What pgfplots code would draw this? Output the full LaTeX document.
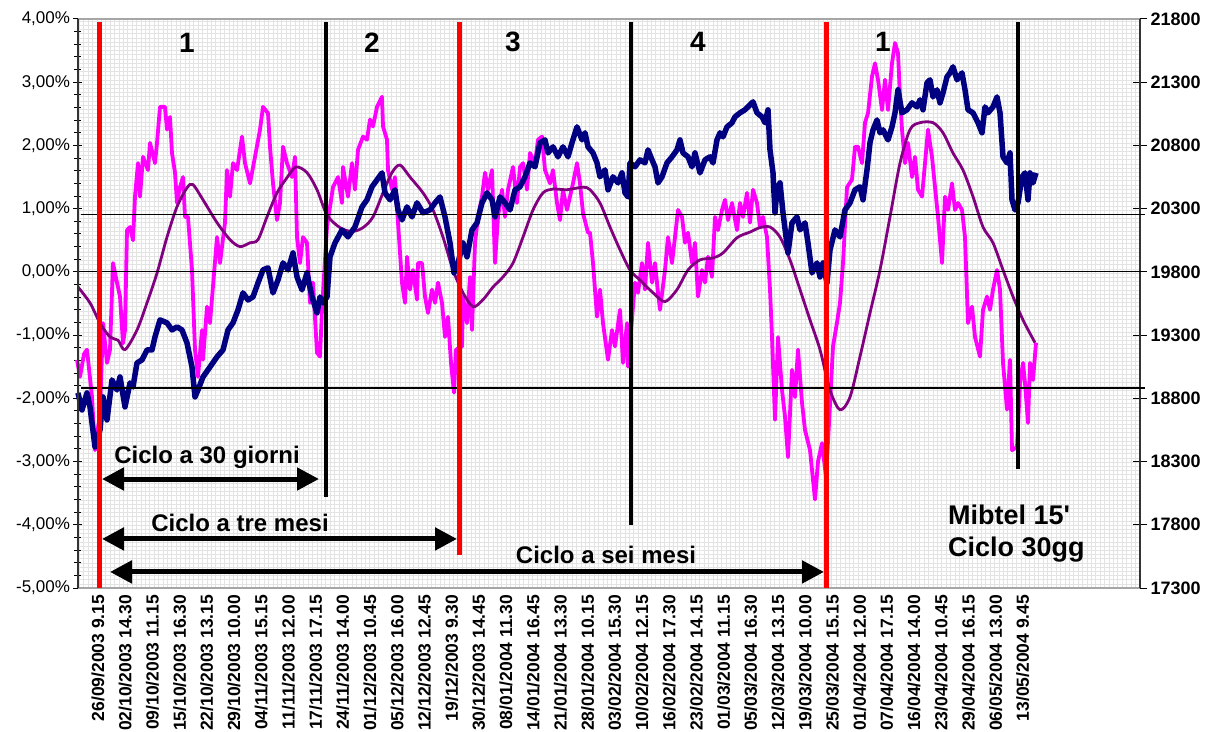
\documentclass[border=0pt]{standalone}
\usepackage{pgfplots}
\pgfplotsset{compat=1.18}
\usetikzlibrary{arrows.meta}
\usepackage{fontspec}
\setmainfont{Liberation Sans}
\definecolor{mag}{RGB}{255,0,255}
\definecolor{nav}{RGB}{0,0,128}
\definecolor{pur}{RGB}{128,0,128}
\begin{document}
\begin{tikzpicture}
\useasboundingbox (-78pt,-143pt) rectangle (1137pt,588pt);
% background fine grid
\begin{axis}[at={(0,0)}, anchor=south west, width=1062pt, height=569pt, scale only axis,
  xmin=78, xmax=1140, ymin=0, ymax=569, xtick distance=4.4, ytick distance=4.2,
  grid=major, grid style={gray!22, line width=0.35pt}, xticklabels={}, yticklabels={},
  major tick length=0pt, axis line style={draw=none}]
\end{axis}
% left axis: oscillators
\begin{axis}[at={(0,0)}, anchor=south west, width=1062pt, height=569pt, scale only axis,
  xmin=78, xmax=1140, ymin=-5, ymax=4, clip=false,
  axis line style={draw=none},
  xtick={98,125.2,...,1023},
  xticklabels={26/09/2003 9.15, 02/10/2003 14.30, 09/10/2003 11.15, 15/10/2003 16.30, 22/10/2003 13.15, 29/10/2003 10.00, 04/11/2003 15.15, 11/11/2003 12.00, 17/11/2003 17.15, 24/11/2003 14.00, 01/12/2003 10.45, 05/12/2003 16.00, 12/12/2003 12.45, 19/12/2003 9.30, 30/12/2003 14.45, 08/01/2004 11.30, 14/01/2004 16.45, 21/01/2004 13.30, 28/01/2004 10.15, 03/02/2004 15.30, 10/02/2004 12.15, 16/02/2004 17.30, 23/02/2004 14.15, 01/03/2004 11.15, 05/03/2004 16.30, 12/03/2004 13.15, 19/03/2004 10.00, 25/03/2004 15.15, 01/04/2004 12.00, 07/04/2004 17.15, 16/04/2004 14.00, 23/04/2004 10.45, 29/04/2004 16.15, 06/05/2004 13.00, 13/05/2004 9.45},
  xtick style={draw=none},
  xticklabel style={rotate=90, anchor=east, inner sep=2pt, font=\bfseries\fontsize{17.5}{17.5}\selectfont},
  ytick={-5,-4,...,4}, ytick pos=left,
  yticklabels={{-5,00\%},{-4,00\%},{-3,00\%},{-2,00\%},{-1,00\%},{0,00\%},{1,00\%},{2,00\%},{3,00\%},{4,00\%}},
  minor y tick num=4,
  tick align=center, major tick length=9pt, minor tick length=7pt,
  ytick style={black, line width=1pt}, minor tick style={black, line width=1pt},
  yticklabel style={font=\fontsize{17}{17}\selectfont},
]
\addplot[mag, line width=3.8pt, line join=round] coordinates {
(77,-1.39)(80,-1.66)(84,-1.30)(87,-1.23)(92,-1.98)(95,-2.82)(100,-2.23)(103,-0.81)(107,-1.44)(110,-1.23)
(113,0.14)(117,-0.17)(120,-0.39)(123,-1.13)(125,-0.92)(127,0.66)(130,0.71)(133,0.50)(135,1.19)(138,1.72)
(140,1.19)(143,1.82)(148,1.61)(150,2.04)(155,1.72)(157,2.04)(160,2.61)(165,2.61)(167,2.25)(170,2.45)
(172,1.88)(175,1.57)(177,1.09)(180,1.34)(183,1.50)(185,0.87)(188,0.87)(192,0.03)(195,-1.23)(198,-1.66)
(202,-0.92)(203,-1.39)(207,-0.55)(210,-0.81)(217,0.55)(220,0.14)(225,0.78)(227,1.61)(230,1.19)(233,1.72)
(237,1.61)(242,2.14)(245,1.72)(250,1.40)(255,1.82)(260,2.25)(263,2.61)(268,2.51)(270,1.98)(273,1.40)
(277,0.82)(280,1.09)(283,1.98)(287,1.72)(292,1.50)(295,1.82)(297,0.55)(300,0.14)(303,0.55)(307,0.46)
(310,-0.49)(313,-0.17)(317,-1.28)(320,-1.34)(322,-0.60)(327,0.71)(333,1.34)(338,1.50)(342,1.09)(343,1.66)
(348,1.19)(352,1.72)(355,1.30)(358,1.93)(363,2.14)(367,2.09)(370,2.41)(373,2.30)(377,2.61)(382,2.77)
(383,2.30)(387,2.09)(388,1.61)(392,1.30)(395,1.50)(398,0.78)(402,-0.17)(405,-0.49)(407,0.24)(410,-0.28)
(413,0.03)(417,-0.44)(418,0.14)(422,0.14)(425,-0.39)(428,-0.65)(432,-0.28)(435,-0.49)(438,-0.17)(442,-0.49)
(445,-1.03)(448,-0.71)(451,-1.44)(454,-1.91)(456,-1.23)(462,-1.18)(463,-0.39)(467,-0.81)(470,-0.08)(472,-0.92)
(475,0.46)(478,0.87)(482,1.19)(485,1.57)(488,1.30)(492,1.61)(495,0.14)(498,0.87)(502,1.30)(505,0.87)
(508,1.30)(513,1.66)(517,1.09)(520,1.66)(523,1.72)(527,1.30)(530,1.88)(535,1.72)(538,2.09)(542,2.14)
(545,1.61)(550,1.40)(553,1.61)(557,1.09)(560,0.82)(563,1.30)(567,0.98)(570,1.19)(573,1.40)(577,1.72)
(580,1.40)(583,0.93)(588,0.62)(590,0.62)(593,0.14)(597,-0.71)(600,-0.28)(603,-0.81)(608,-1.39)(612,-0.92)
(615,-1.18)(620,-0.60)(623,-1.44)(627,-0.81)(628,-1.50)(635,-0.17)(638,-0.33)(642,0.14)(645,-0.28)(648,0.46)
(652,-0.17)(655,0.14)(658,-0.33)(660,-0.60)(665,0.03)(668,0.55)(672,0.14)(675,0.55)(678,0.98)(682,0.87)
(685,0.46)(688,0.62)(692,0.14)(695,0.46)(698,-0.39)(702,0.03)(705,-0.17)(708,0.24)(712,-0.08)(715,0.87)
(718,0.66)(722,0.98)(725,1.14)(728,0.82)(732,1.09)(737,0.66)(740,1.09)(743,0.87)(747,1.25)(750,0.78)
(753,1.30)(757,1.09)(760,0.71)(763,0.87)(767,0.55)(770,-0.28)(772,-1.03)(775,-2.34)(778,-1.03)(782,-1.87)
(785,-2.29)(788,-2.93)(792,-1.55)(795,-1.98)(798,-1.23)(802,-2.07)(805,-2.50)(810,-2.82)(815,-3.60)(818,-3.00)
(822,-2.71)(826,-3.24)(829,-2.40)(833,-1.18)(837,-0.80)(840,-0.49)(843,0.14)(847,1.34)(852,1.46)(855,1.98)
(858,1.98)(862,1.72)(865,2.36)(868,2.51)(872,3.09)(875,3.30)(878,3.04)(882,2.56)(885,3.04)(888,2.56)
(892,3.30)(895,3.62)(898,3.46)(900,2.77)(902,2.25)(905,1.72)(908,2.04)(912,1.50)(915,1.82)(918,1.30)
(922,1.19)(925,1.72)(928,2.25)(932,1.82)(935,1.34)(938,0.87)(942,0.14)(945,1.19)(948,0.98)(952,1.40)
(955,0.98)(958,1.09)(962,0.98)(965,0.55)(968,-0.81)(972,-0.55)(975,-1.03)(980,-1.34)(983,-0.60)(987,-0.39)
(990,-0.60)(993,-0.28)(997,0.03)(1000,-0.28)(1003,-1.44)(1007,-2.18)(1010,-1.39)(1012,-2.82)(1017,-2.77)(1020,-1.76)
(1023,-1.44)(1025,-1.76)(1028,-2.39)(1030,-1.44)(1033,-1.71)(1036,-1.12)
};
\addplot[pur, line width=2.8pt, smooth, tension=0.5] coordinates {
(78,-0.24)(90,-0.49)(100,-0.81)(110,-1.03)(118,-1.08)(125,-1.23)(137,-0.92)(147,-0.49)(157,-0.02)(167,0.55)
(177,1.03)(187,1.33)(193,1.38)(203,1.14)(217,0.78)(230,0.51)(240,0.40)(250,0.46)(258,0.51)(267,0.87)
(277,1.25)(287,1.49)(296,1.66)(307,1.57)(317,1.30)(327,0.90)(340,0.70)(352,0.64)(363,0.70)(373,0.87)
(383,1.25)(392,1.57)(400,1.69)(410,1.50)(423,1.25)(433,0.98)(443,0.55)(453,0.03)(463,-0.33)(473,-0.55)
(483,-0.44)(493,-0.24)(503,-0.08)(513,0.14)(523,0.55)(533,0.98)(543,1.25)(553,1.31)(567,1.30)(583,1.34)
(590,1.30)(600,1.09)(610,0.71)(620,0.35)(630,0.03)(640,-0.13)(653,-0.33)(665,-0.47)(677,-0.28)(688,0.03)
(700,0.19)(713,0.22)(723,0.30)(737,0.54)(750,0.63)(760,0.70)(770,0.71)(780,0.55)(790,0.19)(800,-0.28)
(810,-0.76)(820,-1.23)(830,-1.87)(840,-2.18)(850,-1.98)(860,-1.34)(870,-0.65)(880,0.03)(890,0.87)(900,1.72)
(910,2.25)(920,2.36)(933,2.36)(943,2.20)(953,1.88)(963,1.61)(973,1.19)(983,0.71)(993,0.46)(1003,0.03)
(1013,-0.39)(1023,-0.76)(1035,-1.12)
};
\end{axis}
% right axis: Mibtel
\begin{axis}[at={(0,0)}, anchor=south west, width=1062pt, height=569pt, scale only axis,
  xmin=78, xmax=1140, ymin=17300, ymax=21800, clip=false,
  axis line style={draw=none}, xtick=\empty, scaled y ticks=false,
  ytick={17300,17800,...,21800}, ytick pos=right, yticklabel pos=right,
  yticklabels={17300,17800,18300,18800,19300,19800,20300,20800,21300,21800},
  tick align=center, major tick length=14pt, ytick style={black, line width=1pt},
  yticklabel style={font=\bfseries\fontsize{18}{18}\selectfont},
]
\addplot[nav, line width=5.5pt, line join=round] coordinates {
(78,18843)(82,18708)(87,18843)(90,18732)(95,18416)(100,18550)(103,18811)(107,18629)(112,18946)(117,18866)
(120,18969)(125,18732)(130,18922)(133,18890)(137,19080)(142,19104)(147,19183)(152,19183)(155,19286)(160,19420)
(167,19397)(172,19341)(177,19365)(182,19341)(187,19238)(192,19048)(195,18811)(198,18866)(203,18969)(210,19048)
(217,19128)(223,19183)(228,19341)(233,19397)(238,19499)(243,19634)(248,19578)(253,19602)(258,19713)(263,19816)
(268,19832)(273,19634)(278,19737)(283,19871)(288,19816)(293,19950)(297,19760)(302,19658)(307,19792)(312,19602)
(317,19476)(320,19602)(323,19555)(327,19602)(330,19919)(335,20029)(342,20132)(348,20077)(355,20156)(362,20314)
(367,20370)(372,20473)(377,20528)(382,20583)(385,20425)(390,20370)(395,20449)(398,20290)(402,20211)(407,20314)
(412,20235)(417,20346)(423,20267)(430,20290)(435,20346)(440,20393)(445,20235)(450,20029)(454,19792)(458,19871)
(463,20029)(467,19919)(472,20132)(477,20188)(482,20346)(487,20425)(492,20370)(495,20235)(500,20393)(505,20346)
(510,20290)(515,20449)(520,20473)(525,20552)(530,20662)(535,20631)(540,20821)(545,20844)(548,20741)(553,20789)
(558,20710)(563,20789)(568,20710)(572,20821)(577,20947)(582,20844)(585,20900)(588,20789)(593,20741)(597,20662)
(600,20552)(605,20607)(608,20449)(613,20552)(618,20504)(622,20583)(625,20425)(628,20393)(630,20662)(635,20631)
(640,20686)(645,20662)(648,20765)(652,20686)(655,20631)(658,20504)(662,20552)(667,20662)(672,20710)(677,20765)
(680,20844)(683,20741)(688,20710)(692,20631)(695,20741)(700,20583)(705,20686)(710,20710)(713,20662)(717,20844)
(720,20900)(723,20868)(727,20947)(732,20979)(735,21026)(740,21058)(745,21082)(748,21105)(753,21145)(757,21058)
(762,21026)(765,20979)(768,21082)(770,20765)(773,20583)(775,20267)(777,20449)(780,20504)(783,20267)(788,19950)
(792,20188)(797,20235)(800,20132)(805,20188)(808,20029)(812,19792)(817,19871)(820,19760)(823,19871)(827,19713)
(830,19974)(835,20132)(840,20077)(845,20290)(850,20346)(855,20449)(860,20473)(863,20370)(867,20607)(870,20821)
(873,20923)(877,21002)(880,20900)(883,20923)(888,20844)(892,20947)(895,21058)(898,21240)(902,21058)(907,21082)
(912,21137)(917,21105)(920,21161)(923,21082)(927,21295)(930,21319)(933,21184)(937,21240)(940,21137)(943,21216)
(947,21343)(950,21374)(953,21422)(957,21319)(962,21374)(965,21240)(968,21082)(973,21058)(978,20979)(982,20900)
(985,21105)(988,21058)(993,21105)(997,21184)(1000,21058)(1003,20710)(1007,20662)(1010,20741)(1012,20370)(1015,20290)
(1018,20346)(1022,20552)(1025,20583)(1028,20370)(1030,20583)(1033,20504)(1036,20583)
};
% frame
\draw[gray!70, line width=1.6pt] (axis cs:78,21800) -- (axis cs:1140,21800);
\draw[gray!70, line width=1.6pt] (axis cs:78,17300) -- (axis cs:1140,17300);
\draw[black!80, line width=1.3pt] (axis cs:78,17300) -- (axis cs:78,21800);
\draw[black!80, line width=1.3pt] (axis cs:1140,17300) -- (axis cs:1140,21800);
% horizontal reference lines
\draw[black, line width=1.1pt] (axis cs:81,20251) -- (axis cs:1145,20251);
\draw[black, line width=1.1pt] (axis cs:81,19800) -- (axis cs:1145,19800);
\draw[black, line width=1.1pt] (axis cs:81,18882) -- (axis cs:1145,18882);
% vertical cycle lines
\draw[red, line width=5pt] (axis cs:100,21778) -- (axis cs:100,17300);
\draw[red, line width=5pt] (axis cs:459,21778) -- (axis cs:459,17561);
\draw[red, line width=5pt] (axis cs:826,21778) -- (axis cs:826,17300);
\draw[black, line width=4pt] (axis cs:326,21778) -- (axis cs:326,18020);
\draw[black, line width=4pt] (axis cs:631,21778) -- (axis cs:631,17799);
\draw[black, line width=4pt] (axis cs:1018,21778) -- (axis cs:1018,18242);
% arrows
\draw[black, line width=5pt, {Triangle[length=22pt,width=22pt]}-{Triangle[length=22pt,width=22pt]}] (axis cs:102,18162) -- (axis cs:319,18162);
\draw[black, line width=5pt, {Triangle[length=22pt,width=22pt]}-{Triangle[length=22pt,width=22pt]}] (axis cs:102,17688) -- (axis cs:457,17688);
\draw[black, line width=5pt, {Triangle[length=22pt,width=22pt]}-{Triangle[length=22pt,width=22pt]}] (axis cs:110,17427) -- (axis cs:824,17427);
% texts
\node[font=\bfseries\fontsize{24}{24}\selectfont] at (axis cs:207,18336) {Ciclo a 30 giorni};
\node[font=\bfseries\fontsize{24}{24}\selectfont] at (axis cs:240,17814) {Ciclo a tre mesi};
\node[font=\bfseries\fontsize{24}{24}\selectfont] at (axis cs:606,17561) {Ciclo a sei mesi};
\node[font=\bfseries\fontsize{27}{27}\selectfont, anchor=west, inner sep=0pt] at (axis cs:948,17878) {Mibtel 15\textquotesingle};
\node[font=\bfseries\fontsize{27}{27}\selectfont, anchor=west, inner sep=0pt] at (axis cs:948,17601) {Ciclo 30gg};
\node[font=\bfseries\fontsize{28}{28}\selectfont] at (axis cs:187,21612) {1};
\node[font=\bfseries\fontsize{28}{28}\selectfont] at (axis cs:372,21612) {2};
\node[font=\bfseries\fontsize{28}{28}\selectfont] at (axis cs:513,21620) {3};
\node[font=\bfseries\fontsize{28}{28}\selectfont] at (axis cs:698,21620) {4};
\node[font=\bfseries\fontsize{28}{28}\selectfont] at (axis cs:883,21620) {1};
\end{axis}
\end{tikzpicture}
\end{document}
